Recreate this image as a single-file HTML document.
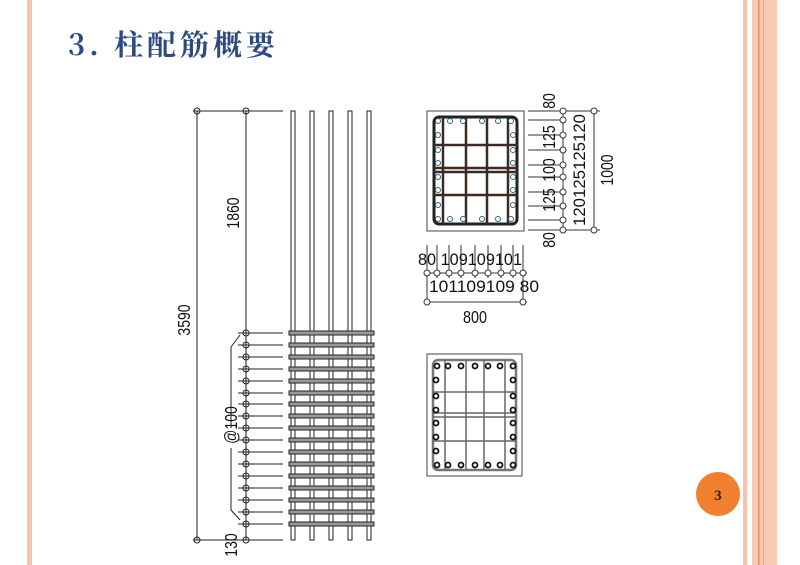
<!DOCTYPE html>
<html><head><meta charset="utf-8"><style>
html,body{margin:0;padding:0;background:#fff;}
body{width:800px;height:565px;overflow:hidden;position:relative;font-family:"Liberation Sans",sans-serif;}
</style></head><body>
<svg width="800" height="565" xmlns="http://www.w3.org/2000/svg" style="position:absolute;left:0;top:0">
<rect x="27" y="0" width="5" height="565" fill="#f9c4ac"/>
<rect x="743" y="0" width="4" height="565" fill="#f9c4ac"/>
<rect x="752" y="0" width="25" height="565" fill="#f9c9b3"/>
<rect x="758" y="0" width="1.5" height="565" fill="#f08e60"/>
<rect x="763" y="0" width="1" height="565" fill="#f4a882"/>
<text x="68" y="55" font-family="'Noto Serif CJK SC', serif" font-size="29" font-weight="bold" fill="#2c4a80" textLength="207" lengthAdjust="spacing">3. 柱配筋概要</text>
<circle cx="718" cy="494" r="22" fill="#f07f2e"/>
<text x="718" y="500" text-anchor="middle" font-family="Liberation Serif, serif" font-weight="bold" font-size="15" fill="#222">3</text>

<g stroke="#222" fill="none" stroke-width="1">
<line x1="193" y1="111" x2="283" y2="111"/>
<line x1="197" y1="111" x2="197" y2="540"/>
<line x1="246" y1="111" x2="246" y2="540"/>
<line x1="193" y1="540" x2="283" y2="540"/>
<circle cx="197" cy="111" r="3"/><circle cx="246" cy="111" r="3"/>
<circle cx="197" cy="540" r="3"/><circle cx="246" cy="540" r="3"/>
<polyline points="240,335 231,347 231,428"/>
<polyline points="231,448 231,510 240,520"/>
<rect x="291" y="111" width="4" height="429"/>
<rect x="310" y="111" width="4" height="429"/>
<rect x="329" y="111" width="4" height="429"/>
<rect x="348" y="111" width="4" height="429"/>
<rect x="367" y="111" width="4" height="429"/>
</g>
<g stroke="#222" stroke-width="1" fill="none">
<line x1="238" y1="333" x2="283" y2="333"/><circle cx="246" cy="333" r="3"/><rect x="289" y="331" width="85" height="4" fill="#999"/>
<line x1="238" y1="345" x2="283" y2="345"/><circle cx="246" cy="345" r="3"/><rect x="289" y="343" width="85" height="4" fill="#999"/>
<line x1="238" y1="357" x2="283" y2="357"/><circle cx="246" cy="357" r="3"/><rect x="289" y="355" width="85" height="4" fill="#999"/>
<line x1="238" y1="369" x2="283" y2="369"/><circle cx="246" cy="369" r="3"/><rect x="289" y="367" width="85" height="4" fill="#999"/>
<line x1="238" y1="381" x2="283" y2="381"/><circle cx="246" cy="381" r="3"/><rect x="289" y="379" width="85" height="4" fill="#999"/>
<line x1="238" y1="393" x2="283" y2="393"/><circle cx="246" cy="393" r="3"/><rect x="289" y="391" width="85" height="4" fill="#999"/>
<line x1="238" y1="404" x2="283" y2="404"/><circle cx="246" cy="404" r="3"/><rect x="289" y="402" width="85" height="4" fill="#999"/>
<line x1="238" y1="416" x2="283" y2="416"/><circle cx="246" cy="416" r="3"/><rect x="289" y="414" width="85" height="4" fill="#999"/>
<line x1="238" y1="428" x2="283" y2="428"/><circle cx="246" cy="428" r="3"/><rect x="289" y="426" width="85" height="4" fill="#999"/>
<line x1="238" y1="440" x2="283" y2="440"/><circle cx="246" cy="440" r="3"/><rect x="289" y="438" width="85" height="4" fill="#999"/>
<line x1="238" y1="452" x2="283" y2="452"/><circle cx="246" cy="452" r="3"/><rect x="289" y="450" width="85" height="4" fill="#999"/>
<line x1="238" y1="464" x2="283" y2="464"/><circle cx="246" cy="464" r="3"/><rect x="289" y="462" width="85" height="4" fill="#999"/>
<line x1="238" y1="476" x2="283" y2="476"/><circle cx="246" cy="476" r="3"/><rect x="289" y="474" width="85" height="4" fill="#999"/>
<line x1="238" y1="488" x2="283" y2="488"/><circle cx="246" cy="488" r="3"/><rect x="289" y="486" width="85" height="4" fill="#999"/>
<line x1="238" y1="500" x2="283" y2="500"/><circle cx="246" cy="500" r="3"/><rect x="289" y="498" width="85" height="4" fill="#999"/>
<line x1="238" y1="512" x2="283" y2="512"/><circle cx="246" cy="512" r="3"/><rect x="289" y="510" width="85" height="4" fill="#999"/>
<line x1="238" y1="524" x2="283" y2="524"/><circle cx="246" cy="524" r="3"/><rect x="289" y="522" width="85" height="4" fill="#999"/>
</g>
<g font-size="18" fill="#111">
<text transform="translate(239,213) rotate(-90) scale(0.78,1)" text-anchor="middle">1860</text>
<text transform="translate(190,320) rotate(-90) scale(0.78,1)" text-anchor="middle">3590</text>
<text transform="translate(237,425) rotate(-90) scale(0.78,1)" text-anchor="middle">@100</text>
<text transform="translate(237,545) rotate(-90) scale(0.78,1)" text-anchor="middle">130</text>
</g>

<g stroke="#333" fill="none">
<rect x="427" y="111" width="97" height="120" stroke="#444"/>
<rect x="434" y="117" width="83" height="107" rx="5" stroke="#222" stroke-width="3"/>
<g stroke="#3a2a22" stroke-width="2.5">
<line x1="443" y1="117" x2="443" y2="224"/><line x1="466" y1="117" x2="466" y2="224"/>
<line x1="487" y1="117" x2="487" y2="224"/><line x1="508" y1="117" x2="508" y2="224"/>
<line x1="434" y1="145" x2="517" y2="145"/><line x1="434" y1="168" x2="517" y2="168"/>
<line x1="434" y1="172" x2="517" y2="172"/><line x1="434" y1="195" x2="517" y2="195"/>
</g>
<g stroke="#2a6a80" fill="#fff" stroke-width="1">
<circle cx="438" cy="121" r="2.5"/><circle cx="450" cy="121" r="2.5"/><circle cx="463" cy="121" r="2.5"/><circle cx="482" cy="121" r="2.5"/><circle cx="498" cy="121" r="2.5"/><circle cx="511" cy="121" r="2.5"/>
<circle cx="438" cy="219" r="2.5"/><circle cx="450" cy="219" r="2.5"/><circle cx="463" cy="219" r="2.5"/><circle cx="482" cy="219" r="2.5"/><circle cx="498" cy="219" r="2.5"/><circle cx="511" cy="219" r="2.5"/>
<circle cx="438" cy="135" r="2.5"/><circle cx="438" cy="150" r="2.5"/><circle cx="438" cy="163" r="2.5"/><circle cx="438" cy="177" r="2.5"/><circle cx="438" cy="190" r="2.5"/><circle cx="438" cy="205" r="2.5"/>
<circle cx="513" cy="135" r="2.5"/><circle cx="513" cy="150" r="2.5"/><circle cx="513" cy="163" r="2.5"/><circle cx="513" cy="177" r="2.5"/><circle cx="513" cy="190" r="2.5"/><circle cx="513" cy="205" r="2.5"/>
</g>
<line x1="528" y1="111" x2="600" y2="111"/>
<line x1="528" y1="230" x2="600" y2="230"/>
<line x1="528" y1="120" x2="565" y2="120"/><line x1="528" y1="135" x2="565" y2="135"/>
<line x1="528" y1="150" x2="565" y2="150"/><line x1="528" y1="165" x2="565" y2="165"/>
<line x1="528" y1="177" x2="565" y2="177"/><line x1="528" y1="192" x2="565" y2="192"/>
<line x1="528" y1="206" x2="565" y2="206"/><line x1="528" y1="220" x2="565" y2="220"/>
<line x1="563" y1="111" x2="563" y2="230"/><line x1="594" y1="111" x2="594" y2="230"/>
<g fill="#fff"><circle cx="563" cy="111" r="3"/><circle cx="563" cy="120" r="3"/><circle cx="563" cy="135" r="3"/><circle cx="563" cy="150" r="3"/><circle cx="563" cy="165" r="3"/><circle cx="563" cy="177" r="3"/><circle cx="563" cy="192" r="3"/><circle cx="563" cy="206" r="3"/><circle cx="563" cy="220" r="3"/><circle cx="563" cy="230" r="3"/><circle cx="594" cy="111" r="3"/><circle cx="594" cy="230" r="3"/></g>
<line x1="427" y1="245" x2="427" y2="300"/><line x1="523" y1="245" x2="523" y2="300"/>
<line x1="437" y1="245" x2="437" y2="278"/><line x1="449" y1="245" x2="449" y2="278"/><line x1="461" y1="245" x2="461" y2="278"/><line x1="475" y1="245" x2="475" y2="278"/><line x1="488" y1="245" x2="488" y2="278"/><line x1="501" y1="245" x2="501" y2="278"/><line x1="513" y1="245" x2="513" y2="278"/>
<line x1="424" y1="273" x2="527" y2="273"/>
<line x1="424" y1="302" x2="527" y2="302"/>
<g fill="#fff"><circle cx="427" cy="273" r="3"/><circle cx="437" cy="273" r="3"/><circle cx="449" cy="273" r="3"/><circle cx="461" cy="273" r="3"/><circle cx="475" cy="273" r="3"/><circle cx="488" cy="273" r="3"/><circle cx="501" cy="273" r="3"/><circle cx="513" cy="273" r="3"/><circle cx="523" cy="273" r="3"/><circle cx="427" cy="302" r="3"/><circle cx="523" cy="302" r="3"/></g>
</g>
<g font-size="18" fill="#111">
<text transform="translate(555,101) rotate(-90) scale(0.78,1)" text-anchor="middle">80</text>
<text transform="translate(555,137) rotate(-90) scale(0.78,1)" text-anchor="middle">125</text>
<text transform="translate(555,170) rotate(-90) scale(0.78,1)" text-anchor="middle">100</text>
<text transform="translate(555,200) rotate(-90) scale(0.78,1)" text-anchor="middle">125</text>
<text transform="translate(555,240) rotate(-90) scale(0.78,1)" text-anchor="middle">80</text>
<text transform="translate(585,170) rotate(-90)" text-anchor="middle" font-size="17" textLength="112" lengthAdjust="spacingAndGlyphs">120125125120</text>
<text transform="translate(613,170) rotate(-90) scale(0.78,1)" text-anchor="middle">1000</text>
<text x="418" y="265" font-size="17" textLength="104" lengthAdjust="spacingAndGlyphs">80 109109101</text>
<text x="429" y="292" font-size="17" textLength="110" lengthAdjust="spacingAndGlyphs">101109109 80</text>
<text transform="translate(475,323) scale(0.8,1)" text-anchor="middle">800</text>
</g>

<g stroke="#444" fill="none">
<rect x="427" y="354" width="95" height="122"/>
<rect x="433" y="360" width="83" height="110" rx="5" stroke="#777" stroke-width="2.5"/>
<g stroke="#666" stroke-width="1.5">
<line x1="445" y1="360" x2="445" y2="470"/><line x1="466" y1="360" x2="466" y2="470"/>
<line x1="484" y1="360" x2="484" y2="470"/><line x1="505" y1="360" x2="505" y2="470"/>
<line x1="433" y1="392" x2="516" y2="392"/><line x1="433" y1="413" x2="516" y2="413"/>
<line x1="433" y1="417" x2="516" y2="417"/><line x1="433" y1="441" x2="516" y2="441"/>
</g>
<g stroke="#111" stroke-width="1.8" fill="#fff">
<circle cx="437" cy="366" r="2.5"/><circle cx="448" cy="366" r="2.5"/><circle cx="461" cy="366" r="2.5"/><circle cx="475" cy="366" r="2.5"/><circle cx="488" cy="366" r="2.5"/><circle cx="500" cy="366" r="2.5"/><circle cx="513" cy="366" r="2.5"/>
<circle cx="437" cy="465" r="2.5"/><circle cx="448" cy="465" r="2.5"/><circle cx="461" cy="465" r="2.5"/><circle cx="475" cy="465" r="2.5"/><circle cx="488" cy="465" r="2.5"/><circle cx="500" cy="465" r="2.5"/><circle cx="513" cy="465" r="2.5"/>
<circle cx="436" cy="380" r="2.5"/><circle cx="436" cy="396" r="2.5"/><circle cx="436" cy="410" r="2.5"/><circle cx="436" cy="423" r="2.5"/><circle cx="436" cy="437" r="2.5"/><circle cx="436" cy="451" r="2.5"/>
<circle cx="513" cy="380" r="2.5"/><circle cx="513" cy="396" r="2.5"/><circle cx="513" cy="410" r="2.5"/><circle cx="513" cy="423" r="2.5"/><circle cx="513" cy="437" r="2.5"/><circle cx="513" cy="451" r="2.5"/>
</g>
</g>
</svg>
</body></html>
